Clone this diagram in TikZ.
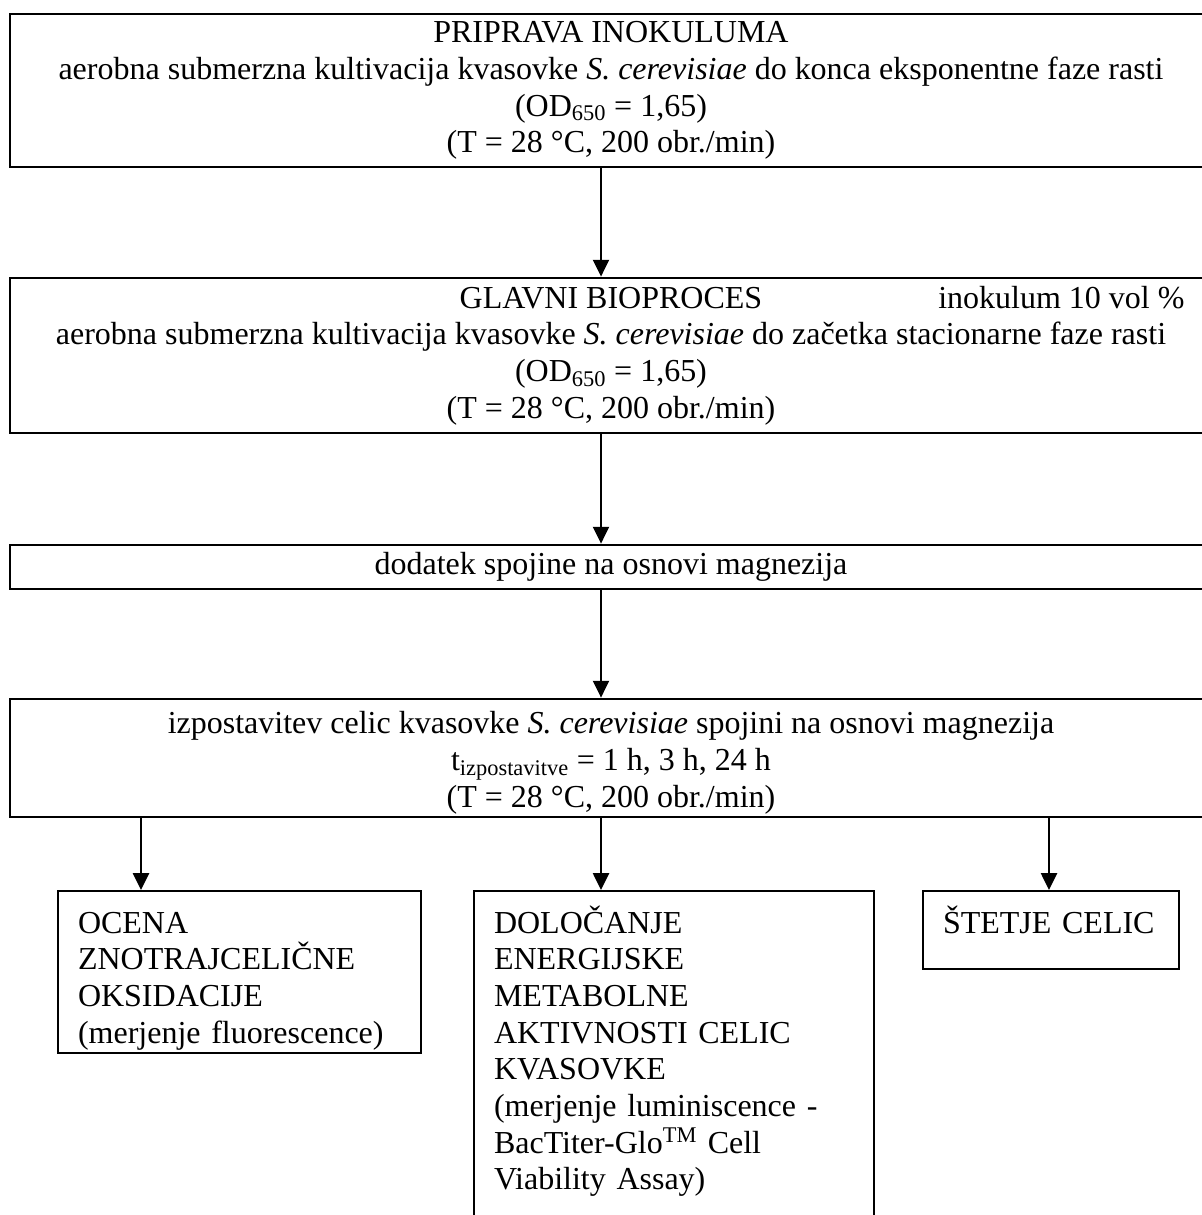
\documentclass[tikz,border=0pt]{standalone}
\usepackage{fontspec}
\setmainfont{Liberation Serif}
\usepackage{tikz}
\usetikzlibrary{positioning}
\usetikzlibrary{arrows.meta}
\pgfdeclarelayer{nodelayer}
\pgfdeclarelayer{edgelayer}
\pgfsetlayers{nodelayer,edgelayer,main}
\tikzset{
  every node/.style={font=\fontsize{22.76pt}{26.1pt}\selectfont},
  bigbox/.style={draw, line width=0.07cm, minimum width=30.05cm, align=center, inner sep=0pt},
  smallbox/.style={draw, line width=0.05cm, anchor=north west, align=left, inner xsep=0.5cm, inner ysep=0pt, text height=1.05cm},
  flow/.style={line width=0.05cm, -{Triangle[width=0.4cm, length=0.42cm]}}
}

\begin{document}
\begin{tikzpicture}
  \useasboundingbox (0, 0) rectangle (30.025, -30.375);
  \begin{pgfonlayer}{nodelayer}
    \node [bigbox, minimum height=3.825cm] (0) at (15.275, -2.2625) {PRIPRAVA INOKULUMA\\ aerobna submerzna kultivacija kvasovke \textit{S. cerevisiae} do konca eksponentne faze rasti\\ (OD\textsubscript{650} = 1,65)\\ (T = 28 °C, 200 obr./min)};
    \node [bigbox, minimum height=3.875cm] (1) at (15.275, -8.8875) {GLAVNI BIOPROCES\rlap{\hspace{4.4cm}inokulum 10 vol \%}\\ aerobna submerzna kultivacija kvasovke \textit{S. cerevisiae} do začetka stacionarne faze rasti\\ (OD\textsubscript{650} = 1,65)\\ (T = 28 °C, 200 obr./min)};
    \node [bigbox, minimum height=1.1cm] (2) at (15.275, -14.175) {dodatek spojine na osnovi magnezija};
    \node [bigbox, text height=2.7cm, text depth=0.25cm] (3) at (15.275, -18.95) {izpostavitev celic kvasovke \textit{S. cerevisiae} spojini na osnovi magnezija\\ t\textsubscript{izpostavitve} = 1 h, 3 h, 24 h\\ (T = 28 °C, 200 obr./min)};
    \node [smallbox, text width=8.075cm, text depth=3.0cm] (4) at (1.425, -22.25) {OCENA\\ ZNOTRAJCELIČNE\\ OKSIDACIJE\\ (merjenje fluorescence)};
    \node [smallbox, text width=9cm, text depth=7.7cm] (5) at (11.825, -22.25) {DOLOČANJE\\ ENERGIJSKE\\ METABOLNE\\ AKTIVNOSTI CELIC\\ KVASOVKE\\ (merjenje luminiscence -\\ BacTiter-Glo\textsuperscript{TM} Cell\\ Viability Assay)};
    \node [smallbox, text width=5.4cm, text depth=0.9cm] (6) at (23.05, -22.25) {ŠTETJE CELIC};
    \coordinate (7) at ([xshift=2.1cm]4.north west);
    \coordinate (8) at ([xshift=3.2cm]5.north west);
    \coordinate (9) at ([xshift=3.175cm]6.north west);
  \end{pgfonlayer}
  \begin{pgfonlayer}{edgelayer}
    \draw [flow] ([xshift=-0.25cm]0.south) to ([xshift=-0.25cm]1.north);
    \draw [flow] ([xshift=-0.25cm]1.south) to ([xshift=-0.25cm]2.north);
    \draw [flow] ([xshift=-0.25cm]2.south) to ([xshift=-0.25cm]3.north);
    \draw [flow] (3.south -| 7) to (7);
    \draw [flow] (3.south -| 8) to (8);
    \draw [flow] (3.south -| 9) to (9);
  \end{pgfonlayer}
\end{tikzpicture}
\end{document}
